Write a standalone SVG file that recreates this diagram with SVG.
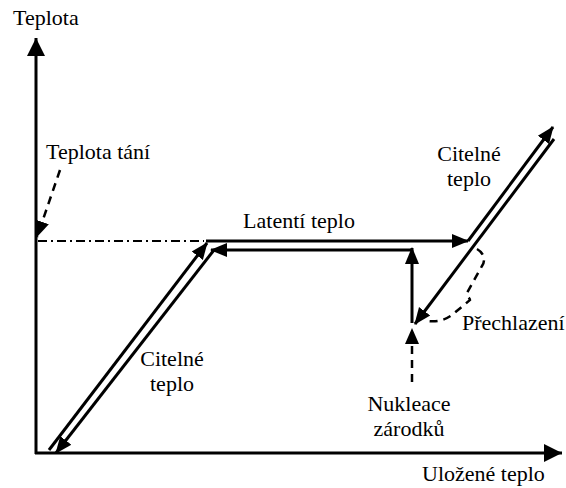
<svg xmlns="http://www.w3.org/2000/svg" width="566" height="488" viewBox="0 0 566 488">
<style>
.t{font-family:'Liberation Serif','Times New Roman',serif;font-size:22px;fill:#000}
.ln{stroke:#000;stroke-width:3;fill:none}
.ax{stroke:#000;stroke-width:3;fill:none}
.ds{stroke:#000;stroke-width:2.5;fill:none;stroke-dasharray:8,6}
.dd{stroke:#000;stroke-width:2;fill:none;stroke-dasharray:9,4,2,4}
</style>
<defs>
<marker id="ah" markerUnits="userSpaceOnUse" markerWidth="18" markerHeight="16" refX="16" refY="8" orient="auto">
<path d="M0,1 L17,8 L0,15 Z" fill="#000"/>
</marker>
<marker id="axh" markerUnits="userSpaceOnUse" markerWidth="20" markerHeight="20" refX="18" refY="9" orient="auto">
<path d="M0,0 L18,9 L0,18 Z" fill="#000"/>
</marker>
<marker id="dh" markerUnits="userSpaceOnUse" markerWidth="18" markerHeight="16" refX="16" refY="8" orient="auto">
<path d="M0,1 L16,8 L0,15 Z" fill="#000"/>
</marker>
</defs>
<g id="axes">
<line class="ax" x1="36" y1="454" x2="36" y2="38" marker-end="url(#axh)"/>
<line class="ax" x1="35" y1="453" x2="562" y2="453" marker-end="url(#axh)"/>
</g>
<g id="connectors">
<line class="dd" x1="38" y1="241" x2="204" y2="241"/>
<line class="ln" x1="49" y1="450" x2="207" y2="243" marker-end="url(#ah)"/>
<line class="ln" x1="206" y1="241" x2="468" y2="241" marker-end="url(#ah)"/>
<line class="ln" x1="468" y1="241" x2="553" y2="127" marker-end="url(#ah)"/>
<line class="ln" x1="554" y1="139" x2="415" y2="324" marker-end="url(#ah)"/>
<line class="ln" x1="412" y1="323" x2="412" y2="248" marker-end="url(#ah)"/>
<line class="ln" x1="412" y1="250" x2="211" y2="250" marker-end="url(#ah)"/>
<line class="ln" x1="214" y1="250" x2="56" y2="453" marker-end="url(#ah)"/>
<line class="ds" x1="60" y1="170" x2="37" y2="237" marker-end="url(#dh)"/>
<line class="ds" x1="412" y1="382" x2="412" y2="328" marker-end="url(#dh)"/>
<path class="ds" d="M477,249 C484,253 486,260 482,266 L467,293 C466,296 470,298 470,300 L452,315 C445,320 438,322 428,321" stroke-dasharray="7,6"/>
</g>
<g id="labels">
<text class="t" x="13" y="25">Teplota</text>
<text class="t" x="46" y="159">Teplota tání</text>
<text class="t" x="299" y="228" text-anchor="middle">Latentí teplo</text>
<text class="t" x="469" y="161" text-anchor="middle">Citelné</text>
<text class="t" x="469" y="186" text-anchor="middle">teplo</text>
<text class="t" x="172" y="366" text-anchor="middle">Citelné</text>
<text class="t" x="172" y="391" text-anchor="middle">teplo</text>
<text class="t" x="462" y="330">Přechlazení</text>
<text class="t" x="409" y="411" text-anchor="middle">Nukleace</text>
<text class="t" x="409" y="436" text-anchor="middle">zárodků</text>
<text class="t" x="422" y="481">Uložené teplo</text>
</g>
</svg>
